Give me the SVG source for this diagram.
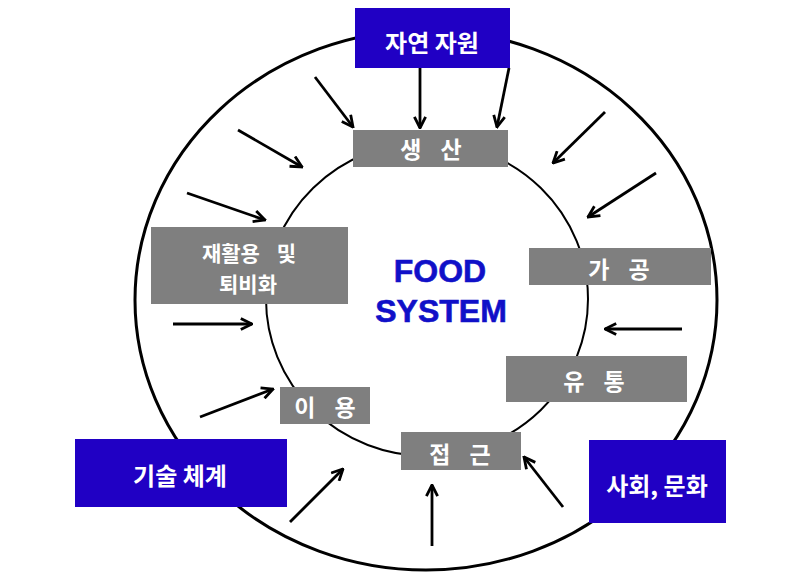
<svg xmlns="http://www.w3.org/2000/svg" width="800" height="584" viewBox="0 0 800 584">
<style>
.ring{fill:none;stroke:#000;}
.blue{fill:#2000c4;}
.gray{fill:#7f7f7f;}
.lbl{font-family:"Noto Sans CJK KR","Noto Sans",sans-serif;font-weight:bold;fill:#fff;text-anchor:middle;}
.arr{stroke:#000;stroke-width:2.8;fill:none;marker-end:url(#ah);}
.title{font-family:"Liberation Sans",Arial,sans-serif;font-weight:bold;font-size:32px;fill:#1010c8;text-anchor:middle;stroke:#1010c8;stroke-width:0.6;}
</style>
<defs>
<marker id="ah" viewBox="0 0 10 10" refX="9" refY="5" markerWidth="14" markerHeight="14" markerUnits="userSpaceOnUse" orient="auto">
<path d="M1,1 L9,5 L1,9" fill="none" stroke="#000" stroke-width="2"/>
</marker>
</defs>
<rect width="800" height="584" fill="#fff"/>
<g id="rings">
<ellipse class="ring" cx="426" cy="300" rx="291" ry="270" stroke-width="3"/>
<ellipse class="ring" cx="427" cy="299" rx="161" ry="157" stroke-width="2"/>
</g>
<g id="connectors">
<line class="arr" x1="420" y1="68" x2="420" y2="128"/>
<line class="arr" x1="509" y1="68" x2="497" y2="127"/>
<line class="arr" x1="315" y1="77" x2="353" y2="127"/>
<line class="arr" x1="238" y1="130" x2="302" y2="167"/>
<line class="arr" x1="187" y1="193" x2="265" y2="220"/>
<line class="arr" x1="605" y1="112" x2="553" y2="163"/>
<line class="arr" x1="656" y1="173" x2="588" y2="217"/>
<line class="arr" x1="682" y1="329" x2="605" y2="329"/>
<line class="arr" x1="173" y1="324" x2="252" y2="324"/>
<line class="arr" x1="200" y1="417" x2="273" y2="389"/>
<line class="arr" x1="290" y1="522" x2="343" y2="469"/>
<line class="arr" x1="432" y1="546" x2="432" y2="485"/>
<line class="arr" x1="563" y1="507" x2="524" y2="457"/>
</g>
<g id="center-title">
<text class="title" x="440" y="282">FOOD</text>
<text class="title" x="441" y="322">SYSTEM</text>
</g>
<g id="natural-resources">
<rect class="blue" x="355" y="8" width="155" height="60"/>
<text class="lbl" x="432" y="52" font-size="24">자연 자원</text>
</g>
<g id="production">
<rect class="gray" x="353" y="130" width="155" height="37"/>
<text class="lbl" x="431" y="158" font-size="23" word-spacing="14">생 산</text>
</g>
<g id="recycling">
<rect class="gray" x="151" y="227" width="197" height="77"/>
<text class="lbl" x="249" y="261" font-size="21" word-spacing="12">재활용 및</text>
<text class="lbl" x="248" y="292" font-size="21">퇴비화</text>
</g>
<g id="processing">
<rect class="gray" x="529" y="248" width="182" height="37"/>
<text class="lbl" x="619" y="278" font-size="23" word-spacing="14">가 공</text>
</g>
<g id="distribution">
<rect class="gray" x="506" y="356" width="181" height="46"/>
<text class="lbl" x="594" y="390" font-size="23" word-spacing="14">유 통</text>
</g>
<g id="use">
<rect class="gray" x="280" y="387" width="90" height="37"/>
<text class="lbl" x="325" y="416" font-size="23" word-spacing="14">이 용</text>
</g>
<g id="access">
<rect class="gray" x="401" y="432" width="120" height="38"/>
<text class="lbl" x="460" y="463" font-size="23" word-spacing="14">접 근</text>
</g>
<g id="technology">
<rect class="blue" x="75" y="439" width="212" height="68"/>
<text class="lbl" x="180" y="485" font-size="24">기술 체계</text>
</g>
<g id="society-culture">
<rect class="blue" x="589" y="440" width="137" height="83"/>
<text class="lbl" x="657" y="495" font-size="24">사회, 문화</text>
</g>
</svg>
